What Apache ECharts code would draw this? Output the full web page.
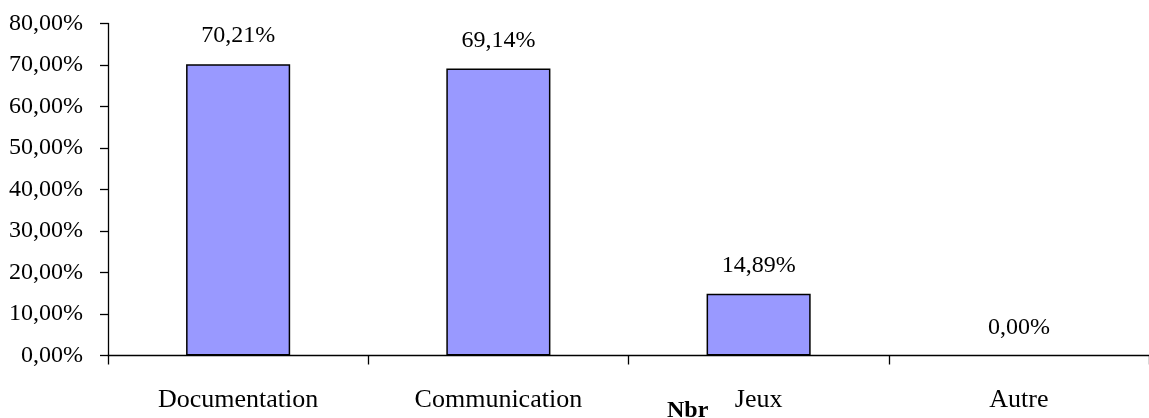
<!DOCTYPE html>
<html>
<head>
<meta charset="utf-8">
<script src="https://cdn.jsdelivr.net/npm/echarts@6/dist/echarts.min.js"></script>
<style>
html,body{margin:0;padding:0;background:#fff;overflow:hidden;}
#chart{width:1149px;height:418px;}
</style>
</head>
<body>
<div id="chart"></div>
<script>
const categories = ['Documentation', 'Communication', 'Jeux', 'Autre'];
const values = [70.21, 69.14, 14.89, 0.00];
const axisName = 'Nbr';
const yMin = 0, yMax = 80, yInterval = 10;

const fmt = v => v.toFixed(2).replace('.', ',') + '%';
const FONT = '"Liberation Serif", "Times New Roman", serif';

const chart = echarts.init(document.getElementById('chart'), null, {renderer: 'canvas'});
chart.setOption({
  animation: false,
  backgroundColor: '#ffffff',
  title: {
    text: axisName,
    left: 667,
    top: 399,
    textStyle: {fontFamily: FONT, fontSize: 24, fontWeight: 'bold', color: '#000'},
    padding: 0
  },
  grid: {left: 108, right: -11, top: 23.5, bottom: 62.5, containLabel: false},
  xAxis: {
    type: 'category',
    data: categories,
    axisLine: {lineStyle: {color: '#000', width: 1.3}},
    axisTick: {show: true, length: 9, inside: false, lineStyle: {color: '#000', width: 1.3}},
    axisLabel: {fontFamily: FONT, fontSize: 26, color: '#000', margin: 32, interval: 0},
    splitLine: {show: false}
  },
  yAxis: {
    type: 'value',
    min: yMin, max: yMax, interval: yInterval,
    axisLine: {show: true, lineStyle: {color: '#000', width: 1.3}},
    axisTick: {show: true, length: 8, lineStyle: {color: '#000', width: 1.3}},
    axisLabel: {fontFamily: FONT, fontSize: 24, color: '#000', margin: 25, formatter: fmt},
    splitLine: {show: false}
  },
  series: [{
    type: 'bar',
    data: values.map(v => v === 0 ? {value: v, itemStyle: {borderWidth: 0}} : v),
    barWidth: '40%',
    itemStyle: {color: '#9999FF', borderColor: '#000', borderWidth: 1.5},
    label: {
      show: true, position: 'top', distance: 16,
      fontFamily: FONT, fontSize: 24, color: '#000',
      formatter: p => fmt(p.value)
    }
  }]
});
</script>
</body>
</html>
